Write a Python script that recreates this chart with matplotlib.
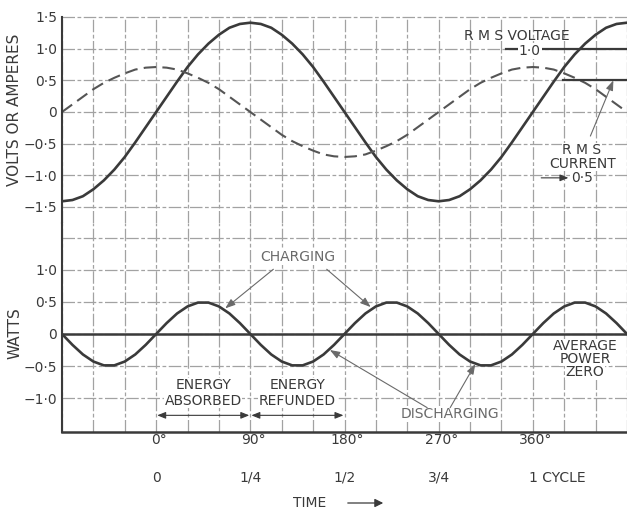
import matplotlib.pyplot as plt
from matplotlib.patches import FancyArrowPatch

plt.rcParams['font.family'] = ['DejaVu Sans']

# phase angle samples (degrees) and the three waveforms read at each angle
angle_deg = list(range(-90, 451, 10))

voltage = [-1.41, -1.39, -1.33, -1.22, -1.08, -0.91, -0.71, -0.48, -0.24,
           0.00, 0.24, 0.48, 0.71, 0.91, 1.08, 1.22, 1.33, 1.39,
           1.41, 1.39, 1.33, 1.22, 1.08, 0.91, 0.71, 0.48, 0.24,
           0.00, -0.24, -0.48, -0.71, -0.91, -1.08, -1.22, -1.33, -1.39,
           -1.41, -1.39, -1.33, -1.22, -1.08, -0.91, -0.71, -0.48, -0.24,
           0.00, 0.24, 0.48, 0.71, 0.91, 1.08, 1.22, 1.33, 1.39,
           1.41]

current = [0.00, 0.12, 0.24, 0.36, 0.46, 0.54, 0.61, 0.67, 0.70,
           0.71, 0.70, 0.67, 0.61, 0.54, 0.46, 0.36, 0.24, 0.12,
           0.00, -0.12, -0.24, -0.36, -0.46, -0.54, -0.61, -0.67, -0.70,
           -0.71, -0.70, -0.67, -0.61, -0.54, -0.46, -0.36, -0.24, -0.12,
           0.00, 0.12, 0.24, 0.36, 0.46, 0.54, 0.61, 0.67, 0.70,
           0.71, 0.70, 0.67, 0.61, 0.54, 0.46, 0.36, 0.24, 0.12,
           0.00]

power = [0.00, -0.17, -0.32, -0.43, -0.49, -0.49, -0.43, -0.32, -0.17,
         0.00, 0.17, 0.32, 0.43, 0.49, 0.49, 0.43, 0.32, 0.17,
         0.00, -0.17, -0.32, -0.43, -0.49, -0.49, -0.43, -0.32, -0.17,
         0.00, 0.17, 0.32, 0.43, 0.49, 0.49, 0.43, 0.32, 0.17,
         0.00, -0.17, -0.32, -0.43, -0.49, -0.49, -0.43, -0.32, -0.17,
         0.00, 0.17, 0.32, 0.43, 0.49, 0.49, 0.43, 0.32, 0.17,
         0.00]

rms_voltage = 1.0
rms_current = 0.5
average_power = 0.0

grid_angles = list(range(-90, 451, 30))
degree_ticks = [0, 90, 180, 270, 360]
degree_labels = ["0°", "90°", "180°", "270°", "360°"]
cycle_ticks = [0, 90, 180, 270]
cycle_labels = ["0", "1/4", "1/2", "3/4"]

va_ticks = [1.5, 1.0, 0.5, 0.0, -0.5, -1.0, -1.5]
va_labels = ["1·5", "1·0", "0·5", "0", "−0·5", "−1·0", "−1·5"]
w_ticks = [1.5, 1.0, 0.5, 0.0, -0.5, -1.0]
w_labels = ["", "1·0", "0·5", "0", "−0·5", "−1·0"]

INK = "#3a3a3a"
GRID = "#a2a2a2"
SOFT = "#6a6a6a"

fig = plt.figure(figsize=(6.27, 5.12), dpi=100)
left = 62 / 627
width = 1 - left
ax_v = fig.add_axes([left, 1 - 222.5 / 512, width, (222.5 - 17) / 512])
ax_w = fig.add_axes([left, 1 - 432 / 512, width, (432 - 222.5) / 512], sharex=ax_v)

for ax in (ax_v, ax_w):
    ax.set_xlim(-90, 450)
    ax.set_xticks(grid_angles)
    ax.tick_params(axis='both', length=0, colors=INK, labelsize=10)
    ax.grid(True, color=GRID, linewidth=0.9, linestyle=(0, (10, 2, 3, 2)))
    for ln in ax.get_ygridlines() + ax.get_xgridlines():
        ln.set_clip_on(False)
    for side in ('top', 'right'):
        ax.spines[side].set_visible(False)
    ax.spines['left'].set_color(INK)
    ax.spines['left'].set_linewidth(1.5)

# --- volts / amperes panel
ax_v.set_ylim(-1.745, 1.5)
ax_v.set_yticks(va_ticks)
ax_v.set_yticklabels(va_labels)
ax_v.tick_params(axis='x', labelbottom=False)
ax_v.spines['bottom'].set_visible(False)

ax_v.plot(angle_deg, voltage, color=INK, linewidth=1.9, solid_capstyle='round')
ax_v.plot(angle_deg, current, color="#555555", linewidth=1.5,
          linestyle=(0, (6, 3)))

ax_v.plot([334, 450], [rms_voltage, rms_voltage], color=INK, linewidth=1.6)
ax_v.plot([389, 450], [rms_current, rms_current], color=INK, linewidth=1.6)

ax_v.text(345, 1.20, "R M S VOLTAGE", ha='center', va='center',
          fontsize=10, color=INK)
ax_v.text(357, 0.96, "1·0", ha='center', va='center', fontsize=10,
          color=INK, bbox=dict(facecolor='white', edgecolor='none', pad=0.6))
ax_v.text(407, -0.60, "R M S", ha='center', va='center', fontsize=10,
          color=INK, bbox=dict(facecolor='white', edgecolor='none', pad=0.3))
ax_v.text(408, -0.82, "CURRENT", ha='center', va='center', fontsize=10,
          color=INK, bbox=dict(facecolor='white', edgecolor='none', pad=0.3))
ax_v.text(407, -1.04, "0·5", ha='center', va='center', fontsize=10,
          color=INK, bbox=dict(facecolor='white', edgecolor='none', pad=0.3))
ax_v.annotate("", xy=(394, -1.04), xytext=(368, -1.04),
              arrowprops=dict(arrowstyle='-|>,head_length=0.5,head_width=0.2',
                              color=INK, lw=0.8, shrinkA=0, shrinkB=0))
ax_v.annotate("", xy=(437, rms_current), xytext=(415, -0.38),
              arrowprops=dict(arrowstyle='-|>,head_length=0.6,head_width=0.22',
                              color=SOFT, lw=0.8, shrinkA=0, shrinkB=0))

# --- watts panel
ax_w.set_ylim(-1.53, 1.74)
ax_w.set_yticks(w_ticks)
ax_w.set_yticklabels(w_labels)
ax_w.set_xticklabels([""] * len(grid_angles))
ax_w.spines['bottom'].set_color(INK)
ax_w.spines['bottom'].set_linewidth(1.8)

ax_w.axhline(average_power, color=INK, linewidth=1.8)
ax_w.plot(angle_deg, power, color=INK, linewidth=1.9, solid_capstyle='round')

arrow_kw = dict(arrowstyle='-|>,head_length=0.6,head_width=0.22',
                color=SOFT, lw=0.8, shrinkA=0, shrinkB=0)
ax_w.text(135, 1.2, "CHARGING", ha='center', va='center', fontsize=10,
          color=SOFT, bbox=dict(facecolor='white', edgecolor='none', pad=0.5))
ax_w.annotate("", xy=(66, 0.40), xytext=(112, 1.01), arrowprops=arrow_kw)
ax_w.annotate("", xy=(205, 0.42), xytext=(163, 1.01), arrowprops=arrow_kw)

ax_w.text(281, -1.25, "DISCHARGING", ha='center', va='center', fontsize=10,
          color=SOFT, bbox=dict(facecolor='white', edgecolor='none', pad=0.5))
ax_w.annotate("", xy=(166, -0.25), xytext=(259, -1.15), arrowprops=arrow_kw)
ax_w.annotate("", xy=(305, -0.47), xytext=(281, -1.15), arrowprops=arrow_kw)

for cx, word in ((45, "ABSORBED"), (135, "REFUNDED")):
    ax_w.text(cx, -0.80, "ENERGY", ha='center', va='center', fontsize=10,
              color=INK, bbox=dict(facecolor='white', edgecolor='none', pad=0.4))
    ax_w.text(cx, -1.04, word, ha='center', va='center', fontsize=10,
              color=INK, bbox=dict(facecolor='white', edgecolor='none', pad=0.4))
for a, b in ((0, 90), (90, 180)):
    ax_w.annotate("", xy=(b - 1, -1.27), xytext=(a + 1, -1.27),
                  arrowprops=dict(arrowstyle='<|-|>,head_length=0.5,head_width=0.2',
                                  color=INK, lw=0.8, shrinkA=0, shrinkB=0))

for yy, word in ((-0.19, "AVERAGE"), (-0.39, "POWER"), (-0.60, "ZERO")):
    ax_w.text(410, yy, word, ha='center', va='center', fontsize=10, color=INK,
              bbox=dict(facecolor='white', edgecolor='none', pad=0.2))

# angle and fraction-of-cycle scales beneath the plot
xfrac = ax_w.get_xaxis_transform()
for x, lab in zip(degree_ticks, degree_labels):
    ax_w.annotate(lab, xy=(x, 0), xycoords=xfrac, xytext=(2, -6),
                  textcoords='offset points', ha='center', va='center',
                  fontsize=10, color=INK)
for x, lab in zip(cycle_ticks, cycle_labels):
    ax_w.annotate(lab, xy=(x, 0), xycoords=xfrac, xytext=(0, -33),
                  textcoords='offset points', ha='center', va='center',
                  fontsize=10, color=INK)
ax_w.annotate("1 CYCLE", xy=(360, 0), xycoords=xfrac, xytext=(-3, -33),
              textcoords='offset points', ha='left', va='center',
              fontsize=10, color=INK)

fig.text(310 / 627, 1 - 503 / 512, "TIME", ha='center', va='center',
         fontsize=10, color=INK)
fig.patches.append(FancyArrowPatch((345 / 627, 1 - 503 / 512),
                                   (386 / 627, 1 - 503 / 512),
                                   transform=fig.transFigure,
                                   arrowstyle='-|>,head_length=5,head_width=2.5',
                                   color=INK, lw=0.9))

fig.text(15 / 627, 1 - 110 / 512, "VOLTS OR AMPERES", rotation=90,
         ha='center', va='center', fontsize=11, color=INK)
fig.text(15 / 627, 1 - 333 / 512, "WATTS", rotation=90,
         ha='center', va='center', fontsize=11, color=INK)

fig.savefig("out.png", dpi=100, facecolor='white')
